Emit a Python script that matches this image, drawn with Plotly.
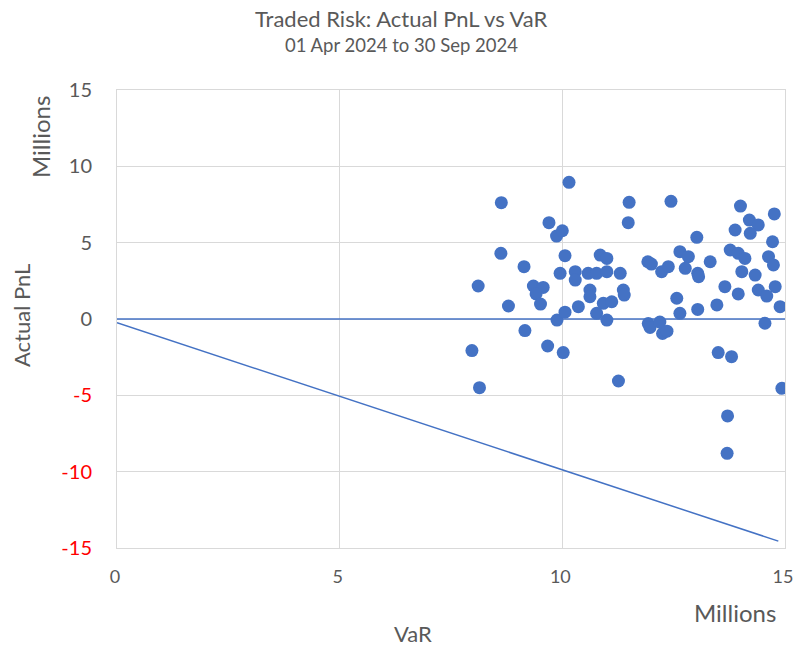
import plotly.graph_objects as go

# Scatter data (millions)
var_values = [
    7.97, 8.14, 8.11, 8.63, 8.62, 8.79, 9.14, 9.16, 9.35, 9.57, 9.41, 9.51, 9.70, 9.67,
    9.87, 10.00, 9.88, 10.02, 10.15,
    10.06, 9.95, 10.06, 10.29, 10.29, 10.36, 10.58, 10.77, 11.00, 11.30, 10.85, 11.00,
    10.62, 10.62, 11.37, 11.39, 10.92, 11.11, 10.77, 11.00, 11.50, 11.48, 11.26,
    12.44, 11.92, 12.00, 12.23, 12.38, 12.64, 12.83, 12.76, 13.04, 13.06, 13.32, 13.02,
    12.57, 12.64, 13.04, 13.47, 11.93, 11.97, 12.19, 12.25, 12.35,
    14.00, 14.76, 14.20, 14.40, 13.88, 14.22, 14.72, 13.77, 13.95, 14.10, 14.63, 14.74,
    14.03, 14.33, 13.65, 13.95, 14.40, 14.59, 14.78, 14.89, 14.55, 13.50, 13.80, 14.93,
    13.71, 13.70,
]
pnl_values = [
    -2.07, -4.50, 2.16, 7.62, 4.30, 0.85, 3.43, -0.76, 2.16, 2.07, 1.64, 0.98, 6.31, -1.77,
    5.43, 5.78, -0.07, -2.20, 8.95,
    4.15, 2.99, 0.45, 3.10, 2.55, 0.81, 2.99, 2.99, 3.10, 2.99, 4.19, 3.97,
    1.90, 1.46, 1.90, 1.57, 1.03, 1.13, 0.37, -0.07, 7.64, 6.31, -4.06,
    7.71, 3.75, 3.60, 3.10, 3.43, 4.41, 4.08, 3.32, 2.99, 2.77, 3.75, 5.35,
    1.36, 0.37, 0.63, 0.92, -0.30, -0.55, -0.20, -0.95, -0.80,
    7.40, 6.88, 6.48, 6.16, 5.83, 5.61, 5.06, 4.52, 4.30, 3.97, 4.08, 3.54,
    3.10, 2.88, 2.12, 1.64, 1.90, 1.50, 2.12, 0.81, -0.28, -2.20, -2.47, -4.54,
    -6.35, -8.80,
]

# Reference lines
zero_line_x = [0, 15]
zero_line_y = [0, 0]
var_line_x = [0, 14.85]
var_line_y = [-0.25, -14.55]

x_ticks = [0, 5, 10, 15]
x_ticktext = ["0", "5", "10", "15"]
y_ticks = [-15, -10, -5, 0, 5, 10, 15]

title_text = "Traded Risk: Actual PnL vs VaR"
subtitle_text = "01 Apr 2024 to 30 Sep 2024"

blue = "#4472C4"
grey_text = "#595959"
grid = "#D9D9D9"
font_family = "Lato, Carlito, Calibri, sans-serif"

y_ticktext = [
    f'<span style="color:#FF0000">{v}</span>' if v < 0 else str(v) for v in y_ticks
]

fig = go.Figure()
fig.add_trace(go.Scatter(x=zero_line_x, y=zero_line_y, mode="lines",
                         line=dict(color=blue, width=1.5), hoverinfo="skip",
                         showlegend=False))
fig.add_trace(go.Scatter(x=var_line_x, y=var_line_y, mode="lines",
                         line=dict(color=blue, width=1.5), hoverinfo="skip",
                         showlegend=False))
fig.add_trace(go.Scatter(x=var_values, y=pnl_values, mode="markers",
                         marker=dict(color=blue, size=13, line=dict(width=0)),
                         showlegend=False))

pl, pr, pt, pb = 117, 785, 90, 548
W, H = 794, 656

fig.update_layout(
    width=W, height=H,
    paper_bgcolor="white", plot_bgcolor="white",
    margin=dict(l=pl, r=W - pr, t=pt, b=H - pb, autoexpand=False),
    font=dict(family=font_family, color=grey_text, size=20),
    xaxis=dict(
        range=[0, 15], tickvals=x_ticks, ticktext=x_ticktext,
        showgrid=True, gridcolor=grid, gridwidth=1,
        zeroline=False, showline=True, linecolor=grid, linewidth=1, mirror=True,
        ticks="", ticklabelstandoff=12, ticklabelshift=-2,
        tickfont=dict(size=18, color=grey_text),
        ticklabeloverflow="allow", automargin=False,
    ),
    yaxis=dict(
        range=[-15, 15], tickvals=y_ticks, ticktext=y_ticktext,
        showgrid=True, gridcolor=grid, gridwidth=1,
        zeroline=False, showline=True, linecolor=grid, linewidth=1, mirror=True,
        ticks="", ticklabelstandoff=20, tickfont=dict(size=20, color=grey_text),
        ticklabeloverflow="allow", automargin=False,
    ),
)

# annotations specified in pixel positions, converted to paper coordinates
ann_specs = [
    (title_text, 401, 18, 0, 22),
    (subtitle_text, 401, 45, 0, 18.5),
    ("Millions", 735, 612, 0, 24),
    ("VaR", 413, 633, 0, 22),
    ("Actual PnL", 21, 316, -90, 22),
    ("Millions", 40, 137, -90, 24),
]
for text, px, py, ang, size in ann_specs:
    fig.add_annotation(
        text=text, xref="paper", yref="paper",
        x=(px - pl) / (pr - pl), y=(pb - py) / (pb - pt),
        xanchor="center", yanchor="middle", textangle=ang, showarrow=False,
        font=dict(size=size, color=grey_text, family=font_family),
    )

fig.write_html("out.html",
               config={"displayModeBar": False},
               post_script="document.body.style.margin='0';document.body.style.overflow='hidden';")
